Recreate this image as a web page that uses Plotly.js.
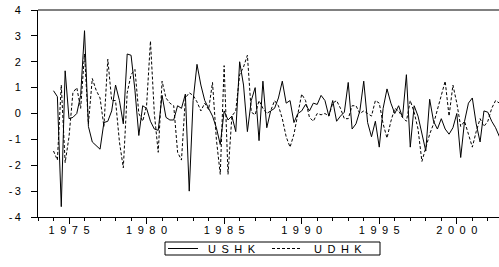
<!DOCTYPE html>
<html>
<head>
<meta charset="utf-8">
<script src="https://cdn.plot.ly/plotly-3.0.1.min.js"></script>
<style>html,body{margin:0;padding:0;background:#fff;}#chart{width:499px;height:267px;}</style>
</head>
<body>
<div id="chart"></div>
<script>
// Quarterly observations, 1974Q1 .. 2002Q4
var startYear = 1974;
var endYear = 2002;

var ushk = [
  0.88, 0.65, -3.6, 1.65,
  -0.2, -0.15, 0.0, 0.7,
  3.2, -0.5, -1.1, -1.25,
  -1.38, -0.35, -0.3, 0.1,
  1.1, 0.5, -0.4, 2.3,
  2.25, 0.9, -0.85, 0.3,
  0.2, -0.3, -0.6, -0.65,
  0.7, -0.15, -0.25, -0.25,
  0.3, 0.2, 0.75, -3.0,
  0.5, 1.9, 1.1, 0.5,
  0.2, -0.1, -0.55, -1.2,
  0.1, -0.25, -0.1, -0.7,
  2.0, 1.1, -0.7, 0.5,
  1.0, -1.05, 1.25, -0.55,
  0.1, 0.2, 0.6, 1.25,
  0.4, 0.5, -0.35, 0.0,
  0.1, 0.35, 0.1, 0.4,
  0.35, 0.7, 0.5, -0.1,
  0.5, -0.3, -0.1, 0.05,
  1.2, -0.6, -0.4, 0.1,
  1.25, -0.35, -0.9, -0.3,
  -1.3, 0.2, 0.95, 0.4,
  0.0, 0.3, -0.15, 1.5,
  -1.3, 0.3, -0.1, -0.8,
  -1.45, 0.55, -0.3, -0.6,
  -0.2, -0.6, -0.8, -0.55,
  0.0, -1.7, -0.3, 0.4,
  0.6, -0.4, -1.1, 0.1,
  0.05, -0.3, -0.55, -0.9
];

var udhk = [
  -1.45, -1.8, 1.1, -1.9,
  -0.9, 0.8, 1.0, 0.2,
  2.3, -0.4, 1.35, 0.9,
  0.6, -0.5, 2.1, 0.5,
  0.5, -1.1, -2.1, 0.8,
  1.5, 1.7, 0.0, -0.3,
  0.3, 2.8, 0.0, -1.5,
  1.25, 0.6, 0.4, 0.3,
  -1.5, -1.8, 0.6, 0.8,
  0.7, 0.45, 0.1, 0.4,
  0.15, 1.2, -1.0, -2.35,
  1.85, -2.35, -0.1, 0.1,
  1.5, 1.8, 2.25, 0.05,
  -0.05, 0.5, 0.2, 0.0,
  0.1, 0.5, 0.3, -0.2,
  -0.9, -1.3, -0.8, 0.0,
  0.75, 0.5, -0.15, -0.3,
  0.0, -0.05, 0.0, -0.1,
  0.4, 0.5, 0.2, -0.2,
  -0.2, 0.3, 0.3, 0.0,
  0.1, 0.0, -0.1, 0.5,
  0.4, -0.4, -0.95, -0.3,
  0.2, 0.1, -0.15, -0.3,
  0.5, 0.05, -0.6, -1.85,
  -1.3, -0.8, -0.4, 0.1,
  0.7, 1.25, -0.1, 1.1,
  0.4, -0.5, -0.3, -0.8,
  -1.3, -0.7, -0.2, -0.5,
  -0.3, 0.2, 0.5, 0.4
];

var xTickVals = [1975, 1980, 1985, 1990, 1995, 2000];
var xTickText = ["1\u20029\u20027\u20025", "1\u20029\u20028\u20020", "1\u20029\u20028\u20025",
                 "1\u20029\u20029\u20020", "1\u20029\u20029\u20025", "2\u20020\u20020\u20020"];
var yTickVals = [-4, -3, -2, -1, 0, 1, 2, 3, 4];
var yTickText = ["-\u20094", "-\u20093", "-\u20092", "-\u20091", "0", "1", "2", "3", "4"];
var seriesNames = ["U\u2002S\u2002H\u2002K", "U\u2002D\u2002H\u2002K"];

var periods = [];
for (var i = 0; i < ushk.length; i++) periods.push(startYear + i / 4);

var font = {family: "Liberation Sans, Arial, sans-serif", size: 11, color: "#000"};

var traces = [
  {x: periods, y: ushk, type: "scatter", mode: "lines", name: seriesNames[0],
   line: {color: "#000", width: 1}},
  {x: periods, y: udhk, type: "scatter", mode: "lines", name: seriesNames[1],
   line: {color: "#000", width: 1, dash: "3px,2px"}}
];

// plot area in page pixels: x 38..499, y 10..217 -> helpers for the legend box below it
var PL = 38, PW = 461, PB = 217, PH = 207;
function px(x) { return (x - PL) / PW; }
function py(y) { return (PB - y) / PH; }

var layout = {
  width: 499, height: 267,
  margin: {l: 38, r: 0, t: 10, b: 50, autoexpand: false},
  paper_bgcolor: "#fff", plot_bgcolor: "#fff",
  font: font,
  showlegend: false,
  xaxis: {range: [1973.0, 2002.72], showgrid: false, zeroline: false,
          showline: true, linecolor: "#000", linewidth: 1,
          ticks: "outside", ticklen: 6, tickcolor: "#000", tickwidth: 1,
          tickvals: xTickVals, ticktext: xTickText, tickfont: font,
          ticklabelstandoff: -3,
          minor: {dtick: 1, tick0: 1975, ticks: "outside", ticklen: 3, tickcolor: "#000", showgrid: false}},
  yaxis: {range: [-4, 4], showgrid: false, zeroline: false,
          showline: true, linecolor: "#000", linewidth: 1,
          ticks: "outside", ticklen: 6, tickcolor: "#000", tickwidth: 1,
          tickvals: yTickVals, ticktext: yTickText, tickfont: font,
          ticklabelstandoff: 8},
  shapes: [
    {type: "line", xref: "paper", yref: "paper", x0: 0, x1: 1, y0: 1, y1: 1,
     line: {color: "#808080", width: 2}},
    // legend box
    {type: "rect", xref: "paper", yref: "paper", x0: px(165), x1: px(380), y0: py(242), y1: py(255),
     line: {color: "#000", width: 1}, fillcolor: "#fff"},
    {type: "line", xref: "paper", yref: "paper", x0: px(168), x1: px(198), y0: py(248.5), y1: py(248.5),
     line: {color: "#000", width: 1}},
    {type: "line", xref: "paper", yref: "paper", x0: px(272), x1: px(301), y0: py(248.5), y1: py(248.5),
     line: {color: "#000", width: 1, dash: "3px,2px"}}
  ],
  annotations: [
    {xref: "paper", yref: "paper", x: px(206), y: py(248.5), xanchor: "left", yanchor: "middle",
     text: seriesNames[0], showarrow: false, font: font},
    {xref: "paper", yref: "paper", x: px(312), y: py(248.5), xanchor: "left", yanchor: "middle",
     text: seriesNames[1], showarrow: false, font: font}
  ]
};

Plotly.newPlot("chart", traces, layout, {displayModeBar: false, staticPlot: true});
</script>
</body>
</html>
